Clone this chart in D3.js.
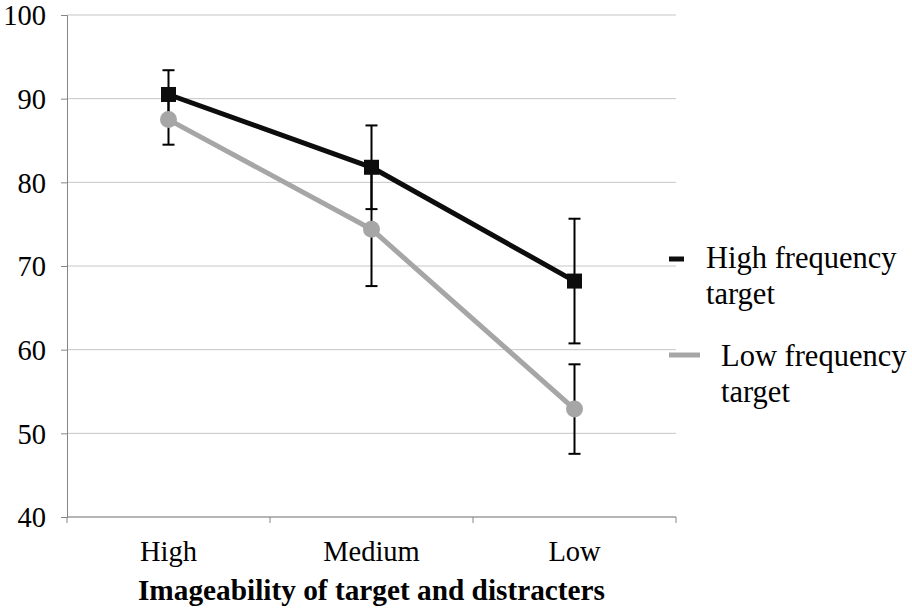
<!DOCTYPE html>
<html>
<head>
<meta charset="utf-8">
<script src="https://cdn.jsdelivr.net/npm/d3@7"></script>
<style>
  body { margin: 0; background: #fff; }
</style>
</head>
<body>
<div id="chart"></div>
<script>
// Imageability x word frequency: percent correct with error bars

const categories = ["High", "Medium", "Low"];
const highFreq = [90.5, 81.8, 68.2];
const highFreqErr = [2.9, 5.0, 7.45];
const lowFreq = [87.5, 74.4, 52.9];
const lowFreqErr = [3.0, 6.8, 5.35];
const yTicks = [40, 50, 60, 70, 80, 90, 100];
const seriesNames = [["High frequency", "target"], ["Low frequency", "target"]];

const FONT = "'Times New Roman', 'Liberation Serif', Times, serif";
const width = 912, height = 608;
const margin = { top: 15, right: 236, bottom: 91, left: 67 };

const svg = d3.select("#chart").append("svg")
    .attr("width", width)
    .attr("height", height);

const x = d3.scaleBand()
    .domain(categories)
    .range([margin.left, width - margin.right]);

const y = d3.scaleLinear()
    .domain([40, 100])
    .range([height - margin.bottom, margin.top]);

// gridlines
svg.append("g")
    .selectAll("line")
    .data(yTicks)
    .enter().append("line")
    .attr("x1", margin.left)
    .attr("x2", width - margin.right)
    .attr("y1", d => y(d))
    .attr("y2", d => y(d))
    .attr("stroke", "#c6c6c6")
    .attr("stroke-width", 1);

// y axis
const yAxis = svg.append("g")
    .attr("transform", `translate(${margin.left},0)`)
    .call(d3.axisLeft(y).tickValues(yTicks).tickSize(6).tickPadding(15));
yAxis.attr("font-family", null).attr("font-size", null);
yAxis.select(".domain").attr("stroke", "#868686");
yAxis.selectAll(".tick line").attr("stroke", "#868686");
yAxis.selectAll("text")
    .style("font-family", FONT)
    .style("font-size", "28.5px")
    .attr("fill", "#000")
    .attr("dy", "0.34em");

// x axis: ticks at band edges
const xAxisG = svg.append("g")
    .attr("transform", `translate(0,${height - margin.bottom})`);
xAxisG.append("line")
    .attr("x1", margin.left)
    .attr("x2", width - margin.right)
    .attr("stroke", "#868686");
const edges = categories.map(c => x(c)).concat([x(categories[categories.length - 1]) + x.bandwidth()]);
xAxisG.selectAll(".edge")
    .data(edges)
    .enter().append("line")
    .attr("class", "edge")
    .attr("x1", d => d)
    .attr("x2", d => d)
    .attr("y1", 0)
    .attr("y2", 6)
    .attr("stroke", "#868686");
xAxisG.selectAll(".lbl")
    .data(categories)
    .enter().append("text")
    .attr("class", "lbl")
    .attr("x", d => x(d) + x.bandwidth() / 2)
    .attr("y", 44)
    .attr("text-anchor", "middle")
    .style("font-family", FONT)
    .style("font-size", "28.5px")
    .text(d => d);

svg.append("text")
    .attr("x", (margin.left + width - margin.right) / 2)
    .attr("y", 600)
    .attr("text-anchor", "middle")
    .style("font-family", FONT)
    .style("font-size", "29.3px")
    .style("font-weight", "bold")
    .text("Imageability of target and distracters");

const cx = d => x(d) + x.bandwidth() / 2;
const series = [
    { vals: highFreq, err: highFreqErr, color: "#0d0d0d", marker: "square" },
    { vals: lowFreq, err: lowFreqErr, color: "#a6a6a6", marker: "circle" }
];

const line = d3.line()
    .x((d, i) => cx(categories[i]))
    .y(d => y(d));

// lines first, then error bars, then markers
series.forEach(s => {
    svg.append("path")
        .datum(s.vals)
        .attr("d", line)
        .attr("fill", "none")
        .attr("stroke", s.color)
        .attr("stroke-width", 5)
        .attr("stroke-linejoin", "round");
});

series.forEach(s => {
    const g = svg.append("g");
    s.vals.forEach((v, i) => {
        const px = cx(categories[i]);
        const top = y(v + s.err[i]), bot = y(v - s.err[i]);
        g.append("line").attr("x1", px).attr("x2", px).attr("y1", top).attr("y2", bot)
            .attr("stroke", "#000").attr("stroke-width", 2);
        [top, bot].forEach(yy => {
            g.append("line").attr("x1", px - 6).attr("x2", px + 6).attr("y1", yy).attr("y2", yy)
                .attr("stroke", "#000").attr("stroke-width", 2);
        });
    });
});

series.forEach(s => {
    const g = svg.append("g");
    s.vals.forEach((v, i) => {
        if (s.marker === "square") {
            g.append("rect")
                .attr("x", cx(categories[i]) - 7.5)
                .attr("y", y(v) - 7.5)
                .attr("width", 15)
                .attr("height", 15)
                .attr("fill", s.color);
        } else {
            g.append("circle")
                .attr("cx", cx(categories[i]))
                .attr("cy", y(v))
                .attr("r", 8.5)
                .attr("fill", s.color);
        }
    });
});

// legend
const legend = [
    { color: "#0d0d0d", x1: 669, x2: 684, y: 259, tx: 706, ty: 268 },
    { color: "#a6a6a6", x1: 669, x2: 700, y: 355, tx: 721, ty: 366 }
];
legend.forEach((l, i) => {
    svg.append("line")
        .attr("x1", l.x1).attr("x2", l.x2)
        .attr("y1", l.y).attr("y2", l.y)
        .attr("stroke", l.color)
        .attr("stroke-width", 5);
    const t = svg.append("text")
        .attr("x", l.tx)
        .attr("y", l.ty)
        .style("font-family", FONT)
        .style("font-size", "30.5px");
    seriesNames[i].forEach((s, j) => {
        t.append("tspan")
            .attr("x", l.tx)
            .attr("dy", j === 0 ? 0 : 36)
            .text(s);
    });
});
</script>
</body>
</html>
